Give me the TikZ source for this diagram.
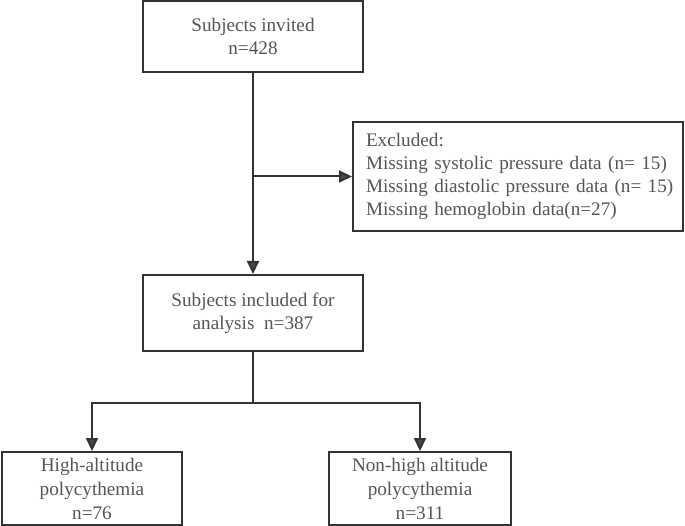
\documentclass[tikz,border=0pt]{standalone}
\usepackage{fontspec}
\setmainfont{Liberation Serif}
\usepackage{xcolor}
\usepackage{tikz}
\usetikzlibrary{arrows.meta}
\usetikzlibrary{positioning}

\definecolor{boxline}{HTML}{333333}
\definecolor{boxtext}{HTML}{555555}

\begin{document}
\begin{tikzpicture}[x=1pt, y=1pt, node distance = 201pt, auto,
			block/.style={
					rectangle,
					draw=boxline,
					line width=2pt,
					text=boxtext,
					align=center,
					inner sep=0pt,
					font=\fontsize{19.2}{23}\selectfont
				},
			line/.style={draw=boxline, line width=2pt,
					-{Triangle[length=13pt,width=12pt,fill=boxline!90]}}
		]
		\useasboundingbox (0,0) rectangle (685,-526);
		% Place nodes
		\node [block, minimum width=220pt, minimum height=71pt] (invited) at (253,-36.5) {Subjects invited\\n=428};
		\node [block, minimum width=220pt, minimum height=76pt, below=of invited] (included) {Subjects included for\\analysis\ \ n=387};
		\node [block, minimum width=330pt, minimum height=109pt, align=left, text width=312pt, inner xsep=9pt] (excluded) at (518,-176.5) {\hspace*{4pt}Excluded:\\\hspace*{4pt}Missing systolic pressure data (n=~15)\\\hspace*{4pt}Missing diastolic pressure data (n=~15)\\\hspace*{4pt}Missing hemoglobin data(n=27)};
		\node [block, minimum width=180pt, minimum height=73pt, font=\fontsize{19.2}{24}\selectfont] (highalt) at (92,-488.5) {High-altitude\\polycythemia\\n=76};
		\node [block, minimum width=182pt, minimum height=73pt, font=\fontsize{19.2}{24}\selectfont] (nonhigh) at (420,-488.5) {Non-high altitude\\polycythemia\\n=311};
		\coordinate (branch) at (invited.south |- excluded.west);
		\coordinate (split) at ([yshift=-51pt]included.south);
		% Draw edges
		\path [line] (invited) -- (included);
		\path [line] (branch) -- (excluded);
		\draw [boxline, line width=2pt] (included) -- (split);
		\path [line] (split) -| (highalt);
		\path [line] (split) -| (nonhigh);
	\end{tikzpicture}
\end{document}
